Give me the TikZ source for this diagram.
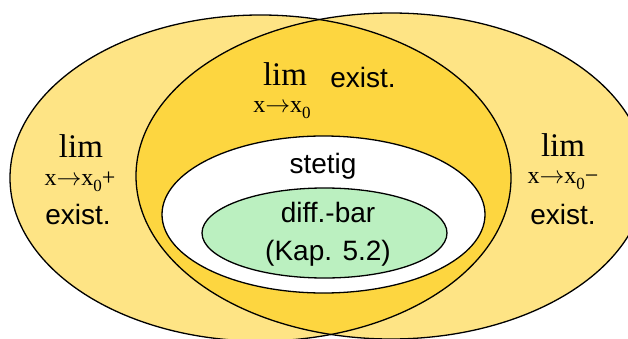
\documentclass[tikz,border=0pt]{standalone}
\usepackage{fontspec}
\setmainfont{Liberation Serif}
\newfontfamily\labelfont{Liberation Sans}
\usetikzlibrary{positioning}
\definecolor{lightyel}{RGB}{254,228,133}
\definecolor{darkyel}{RGB}{253,214,64}
\definecolor{diffgreen}{RGB}{187,240,192}
\newcommand{\tozero}{x\(\mathord{\rightarrow}\)x\raisebox{-0.28em}{\fontsize{17}{18}\selectfont 0}}
\tikzset{
  setline/.style={draw=black, line width=1.3pt},
  wtxt/.style   ={font=\labelfont\fontsize{28}{30}\selectfont, anchor=base, inner sep=0pt},
  limtxt/.style ={font=\fontsize{33}{35}\selectfont, anchor=base, inner sep=0pt},
  subtxt/.style ={font=\fontsize{24}{26}\selectfont, anchor=base, inner sep=0pt},
}
\begin{document}
\begin{tikzpicture}[x=1pt,y=1pt]
\useasboundingbox (0,0) rectangle (628,338);
% one-sided limits
\begin{scope}
  \clip (0,0) rectangle (628,338);
  \fill[lightyel] (260.5,160) ellipse [x radius=250.5, y radius=163];
  \fill[lightyel] (391,162) ellipse [x radius=255, y radius=163];
  \begin{scope}
    \clip (260.5,160) ellipse [x radius=250.5, y radius=163];
    \fill[darkyel] (391,162) ellipse [x radius=255, y radius=163];
  \end{scope}
  \draw[setline] (260.5,160) ellipse [x radius=250.5, y radius=163];
  \draw[setline] (391,162) ellipse [x radius=255, y radius=163];
\end{scope}
% stetig / diff.-bar
\filldraw[setline, fill=white] (323.5,123.5) ellipse [x radius=161.5, y radius=78.5];
\filldraw[setline, fill=diffgreen] (324.5,105) ellipse [x radius=122.5, y radius=45];

% labels
\node[limtxt] (limtop) at (285,253) {lim};
\node[subtxt] (subtop) at (282,226) {\tozero};
\node[wtxt]   (extop)  at (363,251) {exist.};
\node[limtxt] (limleft) at (81,181) {lim};
\node[subtxt] (subleft) at (80,153) {\tozero+};
\node[wtxt]   (exleft)  at (78,114) {exist.};
\node[limtxt] (limright) at (563,182) {lim};
\node[subtxt] (subright) at (563,155) {\tozero−};
\node[wtxt]   (exright)  at (563,114) {exist.};
\node[wtxt]   (stetig)   at (323,165) {stetig};
\node[wtxt]   (diffbar)  at (328,116) {diff.-bar};
\node[wtxt]   (kap)      at (328,78)  {(Kap. 5.2)};
\end{tikzpicture}
\end{document}
